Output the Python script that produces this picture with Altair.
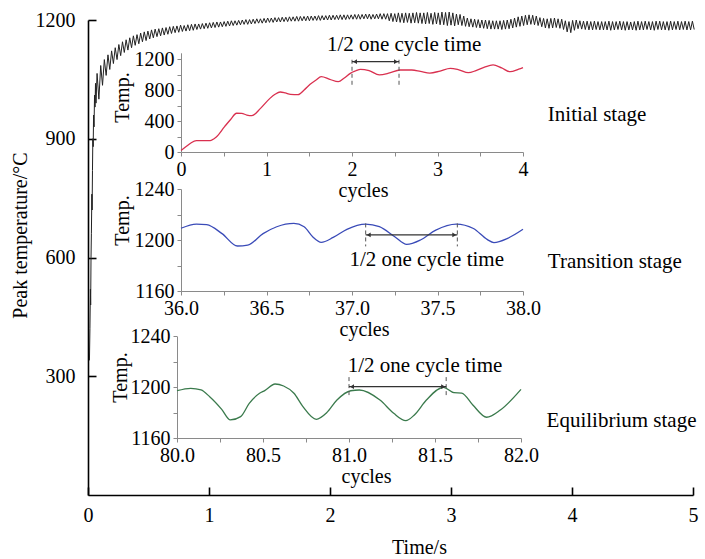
import altair as alt
import pandas as pd

# ---------------- data ----------------
# main curve: early rise (time s, temperature C)
EARLY_T = [0.012, 0.016, 0.020, 0.022, 0.025, 0.028, 0.032, 0.034, 0.037, 0.040,
           0.043, 0.046, 0.050, 0.054, 0.058, 0.062, 0.066]
EARLY_V = [340, 420, 520, 480, 600, 660, 760, 720, 820, 900,
           880, 960, 930, 1010, 980, 1040, 990]

# oscillation peaks / troughs read along the band (one pair every 0.03 s from 0.075 s)
PEAKS = [
    1065, 1085, 1100, 1112, 1122, 1130, 1138, 1145, 1150, 1155,
    1160, 1163, 1167, 1170, 1172, 1175, 1177, 1178, 1180, 1181,
    1183, 1184, 1185, 1187, 1186, 1188, 1189, 1190, 1190, 1191,
    1192, 1193, 1194, 1195, 1195, 1196, 1197, 1198, 1198, 1199,
    1200, 1201, 1201, 1202, 1203, 1203, 1204, 1205, 1205, 1206,
    1206, 1207, 1207, 1208, 1208, 1209, 1209, 1209, 1210, 1210,
    1210, 1211, 1211, 1211, 1212, 1212, 1212, 1213, 1213, 1213,
    1213, 1214, 1214, 1214, 1215, 1215, 1214, 1215, 1216, 1216,
    1216, 1217, 1216, 1218, 1217, 1218, 1217, 1218, 1219, 1218,
    1218, 1219, 1217, 1219, 1218, 1220, 1219, 1220, 1218, 1215,
    1214, 1210, 1205, 1203, 1202, 1201, 1200, 1200, 1199, 1198,
    1198, 1198, 1199, 1200, 1202, 1205, 1208, 1210, 1212, 1213,
    1212, 1210, 1206, 1204, 1203, 1204, 1205, 1203, 1202, 1198,
    1196, 1199, 1200, 1198, 1197, 1197, 1196, 1197, 1196, 1196,
    1196, 1197, 1196, 1196, 1197, 1196, 1196, 1195, 1196, 1197,
    1196, 1197, 1196, 1196, 1197, 1197, 1196, 1196, 1197, 1196,
    1197, 1196, 1197, 1196, 1197,
]
TROUGHS = [
    1000, 1035, 1060, 1075, 1090, 1100, 1110, 1118, 1124, 1130,
    1136, 1140, 1145, 1148, 1152, 1155, 1158, 1160, 1162, 1164,
    1166, 1168, 1169, 1171, 1172, 1173, 1174, 1176, 1177, 1178,
    1179, 1180, 1181, 1182, 1183, 1184, 1185, 1186, 1187, 1188,
    1189, 1189, 1190, 1191, 1192, 1192, 1193, 1194, 1194, 1195,
    1195, 1196, 1196, 1197, 1197, 1197, 1198, 1198, 1198, 1199,
    1199, 1199, 1200, 1200, 1200, 1201, 1201, 1201, 1201, 1202,
    1202, 1202, 1202, 1203, 1203, 1202, 1203, 1203, 1202, 1202,
    1198, 1196, 1195, 1194, 1193, 1194, 1192, 1193, 1192, 1191,
    1190, 1191, 1189, 1190, 1188, 1188, 1186, 1187, 1185, 1188,
    1186, 1184, 1183, 1182, 1181, 1180, 1179, 1178, 1177, 1177,
    1177, 1176, 1177, 1178, 1180, 1182, 1184, 1186, 1188, 1189,
    1188, 1186, 1183, 1180, 1179, 1180, 1181, 1179, 1176, 1170,
    1168, 1174, 1178, 1177, 1176, 1175, 1175, 1176, 1175, 1175,
    1175, 1174, 1175, 1176, 1175, 1174, 1175, 1175, 1174, 1175,
    1175, 1176, 1175, 1174, 1176, 1175, 1175, 1174, 1175, 1176,
    1175, 1176, 1175, 1175, 1176,
]
PEAK_START, HALF = 0.075, 0.015

# inset 1: initial stage (cycles, temperature)
INIT_C = [0, 0.06, 0.12, 0.18, 0.26, 0.34, 0.41, 0.51, 0.58, 0.65, 0.71, 0.77, 0.83,
          0.93, 1.04, 1.10, 1.16, 1.22, 1.28, 1.37, 1.44, 1.51, 1.58, 1.64, 1.74,
          1.84, 1.91, 1.98, 2.04, 2.10, 2.20, 2.32, 2.44, 2.56, 2.70, 2.80, 2.91,
          3.03, 3.15, 3.25, 3.36, 3.45, 3.55, 3.65, 3.75, 3.85, 3.95, 4.00]
INIT_T = [20, 70, 120, 146, 148, 146, 190, 327, 420, 500, 498, 477, 470,
          563, 692, 745, 774, 762, 744, 740, 800, 873, 930, 972, 938,
          907, 955, 1015, 1045, 1067, 1050, 994, 1020, 1058, 1058, 1040, 1018,
          1045, 1080, 1060, 1023, 1050, 1095, 1123, 1085, 1036, 1070, 1090]

# inset 2: transition stage
TRANS_C = [36.0, 36.09, 36.15, 36.24, 36.33, 36.39, 36.48, 36.56, 36.66, 36.72, 36.77,
           36.82, 36.89, 36.97, 37.08, 37.16, 37.25, 37.32, 37.40, 37.49, 37.61,
           37.71, 37.79, 37.83, 37.91, 38.0]
TRANS_T = [1209.2, 1212.5, 1212.0, 1205.0, 1195.3, 1196.0, 1205.0, 1210.4, 1213.0, 1210.4,
           1202.6, 1198.2, 1202.0, 1208.4, 1212.5, 1210.5, 1202.6, 1196.6, 1200.0, 1207.8,
           1212.5, 1209.0, 1200.5, 1198.0, 1201.3, 1208.4]

# inset 3: equilibrium stage
EQ_C = [80.0, 80.08, 80.14, 80.19, 80.26, 80.31, 80.37, 80.42, 80.48, 80.51, 80.57,
        80.62, 80.68, 80.73, 80.81, 80.87, 80.93, 81.01, 81.06, 81.18, 81.26, 81.33,
        81.38, 81.45, 81.55, 81.61, 81.655, 81.72, 81.80, 81.88, 82.0]
EQ_T = [1197.3, 1199.2, 1197.9, 1192.6, 1182.7, 1174.4, 1177.0, 1187.4, 1195.3, 1197.4,
        1202.6, 1201.0, 1195.3, 1185.3, 1174.9, 1180.0, 1190.0, 1197.3, 1197.9, 1190.0,
        1179.6, 1173.8, 1178.3, 1190.0, 1200.0, 1195.8, 1195.5, 1186.1, 1176.5, 1182.2,
        1198.4]

# "1/2 one cycle time" brackets: [x_start, x_end, y_bar, dash_top, dash_bottom]
INIT_BR = [2.0, 2.55, 1165, 1190, 865]
TRANS_BR = [37.08, 37.616, 1204, 1213, 1195]
EQ_BR = [81.0, 81.565, 1200.5, 1208, 1192]
# annotation text anchors (data coords of each inset)
INIT_TXT = [2.61, 1381]
TRANS_TXT = [37.437, 1184.3]
EQ_TXT = [81.442, 1216.7]
ANNOT = "1/2 one cycle time"

STAGES = ["Initial stage", "Transition stage", "Equilibrium stage"]
STAGE_X = [3.80, 3.80, 3.79]
STAGE_Y = [960, 588, 186]

# ---------------- layout / style ----------------
FONT = "Liberation Serif"
FS = 20
W, H = 605, 475
GREY = "#8a8a8a"


def sc(domain, rng):
    return alt.Scale(domain=domain, range=rng, nice=False, zero=False)


rows = list(zip(EARLY_T, EARLY_V))
for i, (p, q) in enumerate(zip(PEAKS, TROUGHS)):
    t = PEAK_START + 2 * HALF * i
    rows.append((t, p))
    rows.append((t + HALF, q))
main_df = pd.DataFrame(rows, columns=["t", "v"])

MX = sc([0, 5], [0, W])
MY = sc([0, 1200], [H, 0])

lab = dict(labelFont=FONT, labelFontSize=FS, labelColor="black", grid=False)
tit = dict(titleFont=FONT, titleFontSize=FS, titleFontWeight="normal", titleColor="black")

main_line = alt.Chart(main_df).mark_line(color="#222222", strokeWidth=1).encode(
    x=alt.X("t:Q", scale=MX, axis=alt.Axis(
        orient="bottom", values=[0, 1, 2, 3, 4, 5], format="d", ticks=False, tickSize=0,
        domainColor="black", domainWidth=1.6, labelPadding=10, labelFlush=False,
        labelOverlap=False, title="Time/s", titleX=331, titleY=52,
        titleBaseline="middle", titleAlign="center", **lab, **tit)),
    y=alt.Y("v:Q", scale=MY, axis=alt.Axis(
        orient="left", values=[300, 600, 900, 1200], format="d", ticks=False, tickSize=0,
        domainColor="black", domainWidth=1.6, labelPadding=13, labelOverlap=False,
        title="Peak temperature/°C", titleX=-68, titleY=215, titleAngle=270,
        titleBaseline="middle", titleAlign="center", **lab, **tit)),
)

main_ticks = alt.Chart(main_df).mark_line(strokeOpacity=0).encode(
    x=alt.X("t:Q", scale=MX, axis=alt.Axis(
        orient="top", offset=-H, values=[0, 1, 2, 3, 4, 5], labels=False, domain=False,
        tickSize=8, tickWidth=1.6, tickColor="black", grid=False, title="")),
    y=alt.Y("v:Q", scale=MY, axis=alt.Axis(
        orient="right", offset=-W, values=[300, 600, 900, 1200], labels=False,
        domain=False, tickSize=8, tickWidth=1.6, tickColor="black", grid=False, title="")),
)


def inset(cs, ts, color, xs, ys, xaxis, yaxis, br, txt):
    df = pd.DataFrame({"c": cs, "T": ts})
    curve = alt.Chart(df).mark_line(color=color, strokeWidth=1.3, interpolate="monotone").encode(
        x=alt.X("c:Q", scale=xs, axis=xaxis),
        y=alt.Y("T:Q", scale=ys, axis=yaxis),
    )
    bdf = pd.DataFrame({"x0": [br[0]], "x1": [br[1]], "y": [br[2]]})
    bar = alt.Chart(bdf).mark_rule(color="#333333", strokeWidth=1.2).encode(
        x=alt.X("x0:Q", scale=xs, axis=None), x2="x1:Q",
        y=alt.Y("y:Q", scale=ys, axis=None))
    ddf = pd.DataFrame({"x": [br[0], br[1]], "a": [br[3], br[3]], "b": [br[4], br[4]]})
    dash = alt.Chart(ddf).mark_rule(color="#555555", strokeWidth=1, strokeDash=[4, 3]).encode(
        x=alt.X("x:Q", scale=xs, axis=None),
        y=alt.Y("a:Q", scale=ys, axis=None), y2="b:Q")
    ldf = pd.DataFrame({"x": [br[0]], "y": [br[2]]})
    rdf = pd.DataFrame({"x": [br[1]], "y": [br[2]]})
    arrl = alt.Chart(ldf).mark_point(shape="triangle-left", filled=True, size=22,
                                     color="#333333", xOffset=3, opacity=1).encode(
        x=alt.X("x:Q", scale=xs, axis=None), y=alt.Y("y:Q", scale=ys, axis=None))
    arrr = alt.Chart(rdf).mark_point(shape="triangle-right", filled=True, size=22,
                                     color="#333333", xOffset=-3, opacity=1).encode(
        x=alt.X("x:Q", scale=xs, axis=None), y=alt.Y("y:Q", scale=ys, axis=None))
    tdf = pd.DataFrame({"x": [txt[0]], "y": [txt[1]], "s": [ANNOT]})
    text = alt.Chart(tdf).mark_text(font=FONT, fontSize=21, color="black",
                                    align="center", baseline="middle").encode(
        x=alt.X("x:Q", scale=xs, axis=None), y=alt.Y("y:Q", scale=ys, axis=None), text="s:N")
    return [curve, dash, bar, arrl, arrr, text]


def xax(offset, values, expr, title_x):
    return alt.Axis(orient="bottom", offset=offset, values=values, labelExpr=expr,
                    tickSize=4, tickColor=GREY, domainColor=GREY, domainWidth=1,
                    labelPadding=3, labelFlush=False, labelOverlap=False,
                    title="cycles", titleX=title_x, titleY=38, titleBaseline="middle",
                    titleAlign="center", **lab, **tit)


def yax(offset, values, expr, title_x, title_y):
    return alt.Axis(orient="left", offset=offset, values=values, labelExpr=expr,
                    tickSize=4, tickColor=GREY, domainColor=GREY, domainWidth=1,
                    labelPadding=3, labelOverlap=False,
                    title="Temp.", titleX=title_x, titleY=title_y, titleAngle=270,
                    titleBaseline="middle", titleAlign="center", **lab, **tit)


half_lbl = "(datum.value * 2) % 1 == 0 ? format(datum.value, '.1f') : ''"

init_layers = inset(
    INIT_C, INIT_T, "#d9304f", sc([0, 4], [93, 435]), sc([0, 1280], [132, 32.8]),
    xax(-343, [0, 0.5, 1, 1.5, 2, 2.5, 3, 3.5, 4],
        "datum.value % 1 == 0 ? format(datum.value, 'd') : ''", 275),
    yax(-93, [0, 200, 400, 600, 800, 1000, 1200],
        "datum.value % 400 == 0 ? format(datum.value, 'd') : ''", -59, 77),
    INIT_BR, INIT_TXT)

trans_layers = inset(
    TRANS_C, TRANS_T, "#3a4bb8", sc([36, 38], [93, 435]), sc([1160, 1240], [271, 169]),
    xax(-204, [36, 36.25, 36.5, 36.75, 37, 37.25, 37.5, 37.75, 38], half_lbl, 276),
    yax(-93, [1160, 1180, 1200, 1220, 1240],
        "datum.value % 40 == 0 ? format(datum.value, 'd') : ''", -59, 200),
    TRANS_BR, TRANS_TXT)

eq_layers = inset(
    EQ_C, EQ_T, "#3a7a4c", sc([80, 82], [89, 433]), sc([1160, 1240], [418.3, 316.3]),
    xax(-57, [80, 80.25, 80.5, 80.75, 81, 81.25, 81.5, 81.75, 82], half_lbl, 278),
    yax(-89, [1160, 1180, 1200, 1220, 1240],
        "datum.value % 40 == 0 ? format(datum.value, 'd') : ''", -57, 357),
    EQ_BR, EQ_TXT)

stage_df = pd.DataFrame({"x": STAGE_X, "y": STAGE_Y, "s": STAGES})
stages = alt.Chart(stage_df).mark_text(font=FONT, fontSize=21, color="black",
                                       align="left", baseline="middle").encode(
    x=alt.X("x:Q", scale=MX, axis=None), y=alt.Y("y:Q", scale=MY, axis=None), text="s:N")

chart = alt.layer(main_ticks, main_line, *init_layers, *trans_layers, *eq_layers, stages).resolve_scale(
    x="independent", y="independent").resolve_axis(
    x="independent", y="independent").properties(
    width=W, height=H,
    autosize=alt.AutoSizeParams(type="none"),
    padding={"left": 88, "top": 20, "right": 12, "bottom": 64},
    background="white",
).configure_view(strokeWidth=0)

chart.save("out.html", embed_options={"renderer": "svg", "actions": False})
